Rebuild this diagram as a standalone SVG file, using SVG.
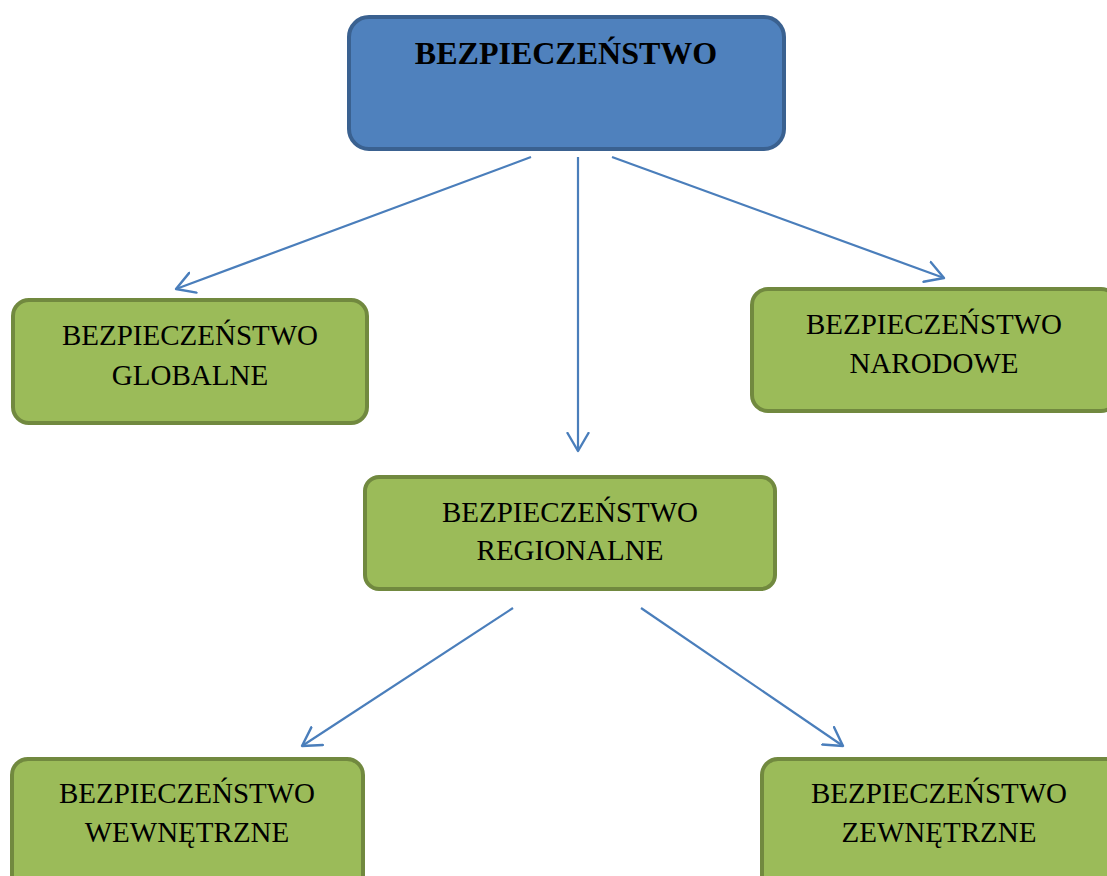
<svg xmlns="http://www.w3.org/2000/svg" width="1107" height="876" viewBox="0 0 1107 876">
<style>
.blue{fill:#4f81bd;stroke:#3a6190;stroke-width:4}
.green{fill:#9bbb59;stroke:#71893f;stroke-width:4}
.t{font-family:"Liberation Serif","Times New Roman",serif;font-size:29px;fill:#000;text-anchor:middle}
.tb{font-family:"Liberation Serif","Times New Roman",serif;font-size:32px;font-weight:bold;fill:#000;text-anchor:middle}
.c{fill:none;stroke:#4a7ebb;stroke-width:2.2}
</style>
<defs>
<marker id="ah" viewBox="0 0 22 24" markerWidth="22" markerHeight="24" refX="19" refY="12" orient="auto" markerUnits="userSpaceOnUse">
<path d="M1,1.5 L19,12 L1,22.5" fill="none" stroke="#4a7ebb" stroke-width="2.4" stroke-linecap="round" stroke-linejoin="round"/>
</marker>
</defs>
<rect width="1107" height="876" fill="#fff"/>
<g id="connectors">
<line class="c" x1="531" y1="157" x2="176" y2="289" marker-end="url(#ah)"/>
<line class="c" x1="578" y1="157" x2="578" y2="451" marker-end="url(#ah)"/>
<line class="c" x1="612" y1="157" x2="944" y2="278" marker-end="url(#ah)"/>
<line class="c" x1="513" y1="608" x2="302" y2="746" marker-end="url(#ah)"/>
<line class="c" x1="641" y1="608" x2="843" y2="746" marker-end="url(#ah)"/>
</g>
<g id="root">
<rect class="blue" x="349" y="17" width="435" height="132" rx="20"/>
<text class="tb" x="566" y="64">BEZPIECZEŃSTWO</text>
</g>
<g id="globalne">
<rect class="green" x="13" y="300" width="354" height="123" rx="16"/>
<text class="t" x="190" y="345">BEZPIECZEŃSTWO</text>
<text class="t" x="190" y="385">GLOBALNE</text>
</g>
<g id="narodowe">
<rect class="green" x="752" y="289" width="365" height="122" rx="16"/>
<text class="t" x="934" y="334">BEZPIECZEŃSTWO</text>
<text class="t" x="934" y="373">NARODOWE</text>
</g>
<g id="regionalne">
<rect class="green" x="365" y="477" width="410" height="112" rx="14"/>
<text class="t" x="570" y="522">BEZPIECZEŃSTWO</text>
<text class="t" x="570" y="560">REGIONALNE</text>
</g>
<g id="wewnetrzne">
<rect class="green" x="12" y="759" width="351" height="135" rx="16"/>
<text class="t" x="187" y="803">BEZPIECZEŃSTWO</text>
<text class="t" x="187" y="842">WEWNĘTRZNE</text>
</g>
<g id="zewnetrzne">
<rect class="green" x="762" y="759" width="360" height="135" rx="16"/>
<text class="t" x="939" y="803">BEZPIECZEŃSTWO</text>
<text class="t" x="939" y="842">ZEWNĘTRZNE</text>
</g>
</svg>
